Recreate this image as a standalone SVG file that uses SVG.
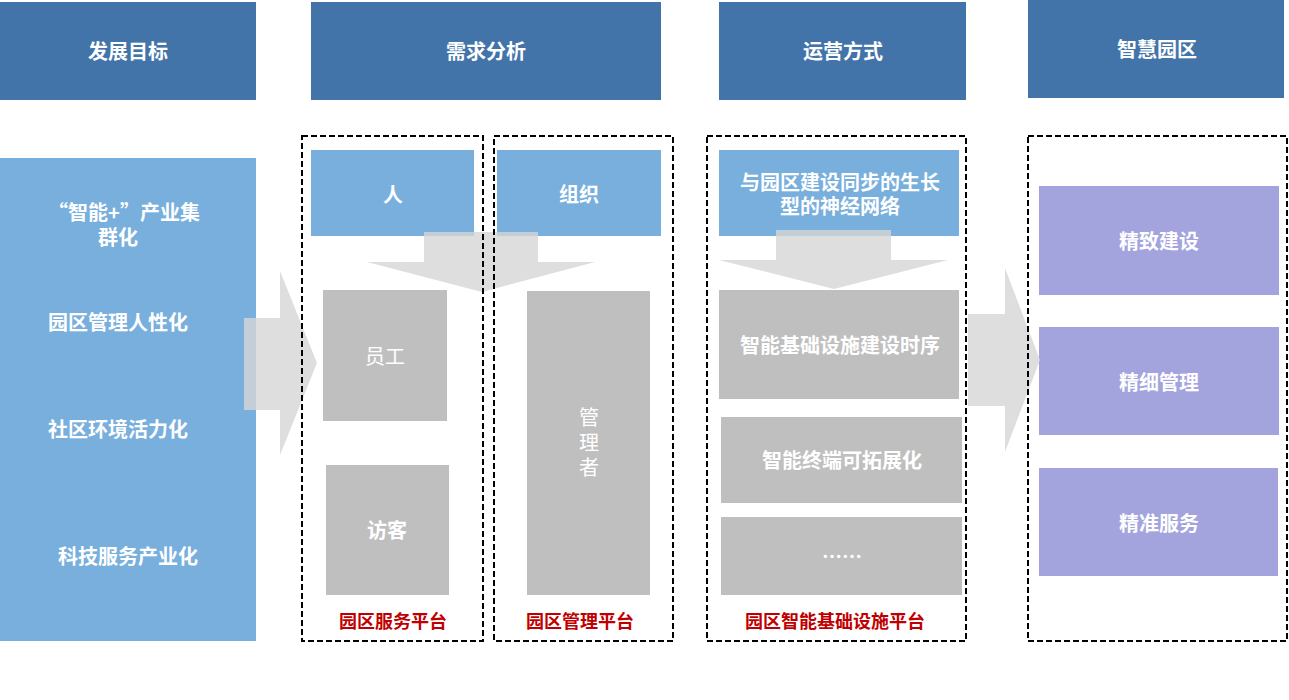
<svg xmlns="http://www.w3.org/2000/svg" width="1289" height="700" viewBox="0 0 1289 700">
<style>
text{font-family:"Noto Sans CJK SC","Liberation Sans",sans-serif;font-size:20px;font-weight:bold;fill:#FFFFFF;text-anchor:middle}
.hdr{fill:#4374A9}
.lb{fill:#79AFDD}
.gr{fill:#BFBFBF}
.pu{fill:#A3A3DE}
.dash{fill:none;stroke:#000;stroke-width:2;stroke-dasharray:6 3}
.arr{fill:#D6D6D6;fill-opacity:0.8}
.red{fill:#C00000;font-size:18px}
.thin{font-weight:normal}
</style>
<rect width="1289" height="700" fill="#FFFFFF"/>

<g id="header-goal"><rect class="hdr" x="0" y="2" width="256" height="98"/><text x="128" y="59">发展目标</text></g>
<g id="header-demand"><rect class="hdr" x="311" y="2" width="350" height="98"/><text x="486" y="59">需求分析</text></g>
<g id="header-operation"><rect class="hdr" x="719" y="2" width="247" height="98"/><text x="843" y="59">运营方式</text></g>
<g id="header-smartpark"><rect class="hdr" x="1028" y="0" width="256" height="98"/><text x="1157" y="57">智慧园区</text></g>

<g id="goals">
<rect class="lb" x="0" y="158" width="256" height="483"/>
<text x="124" y="220">“智能+”产业集<tspan x="118" dy="25">群化</tspan></text>
<text x="118" y="330">园区管理人性化</text>
<text x="118" y="437">社区环境活力化</text>
<text x="128" y="564">科技服务产业化</text>
</g>

<g id="node-person"><rect class="lb" x="311" y="150" width="163" height="86"/><text x="393" y="202">人</text></g>
<g id="node-org"><rect class="lb" x="497" y="150" width="164" height="86"/><text x="579" y="202">组织</text></g>
<g id="node-network"><rect class="lb" x="719" y="150" width="240" height="86"/><text x="840" y="190">与园区建设同步的生长<tspan x="840" dy="24">型的神经网络</tspan></text></g>

<g id="node-staff"><rect class="gr" x="323" y="290" width="124" height="131"/><text class="thin" x="385" y="364">员工</text></g>
<g id="node-visitor"><rect class="gr" x="326" y="465" width="123" height="130"/><text x="387" y="538">访客</text></g>
<g id="node-manager"><rect class="gr" x="527" y="291" width="123" height="304"/><text class="thin" x="589" y="425">管<tspan x="589" dy="25">理</tspan><tspan x="589" dy="25">者</tspan></text></g>

<g id="node-infra"><rect class="gr" x="719" y="290" width="240" height="109"/><text x="840" y="353">智能基础设施建设时序</text></g>
<g id="node-terminal"><rect class="gr" x="721" y="417" width="241" height="86"/><text x="842" y="468">智能终端可拓展化</text></g>
<g id="node-more"><rect class="gr" x="721" y="517" width="241" height="78"/><text x="842" y="564">……</text></g>

<g id="node-build"><rect class="pu" x="1039" y="186" width="240" height="109"/><text x="1159" y="249">精致建设</text></g>
<g id="node-manage"><rect class="pu" x="1039" y="327" width="240" height="108"/><text x="1159" y="390">精细管理</text></g>
<g id="node-service"><rect class="pu" x="1039" y="468" width="239" height="108"/><text x="1159" y="531">精准服务</text></g>

<g id="connectors">
<polygon class="arr" points="244,318 280,318 280,271 317,363 280,455 280,410 244,410"/>
<polygon class="arr" points="424,232 538,232 538,262 595,262 482,292 367,262 424,262"/>
<polygon class="arr" points="776,230 891,230 891,260 948,260 834,289 719,260 776,260"/>
<polygon class="arr" points="968,314 1005,314 1005,268 1040,360 1005,452 1005,406 968,406"/>
</g>

<g id="platform-service"><rect class="dash" x="302" y="136" width="181" height="505"/><text class="red" x="393" y="628">园区服务平台</text></g>
<g id="platform-manage"><rect class="dash" x="494" y="136" width="179" height="505"/><text class="red" x="580" y="628">园区管理平台</text></g>
<g id="platform-infra"><rect class="dash" x="707" y="136" width="259" height="505"/><text class="red" x="835" y="628">园区智能基础设施平台</text></g>
<g id="platform-smart"><rect class="dash" x="1028" y="136" width="259" height="505"/></g>
</svg>
